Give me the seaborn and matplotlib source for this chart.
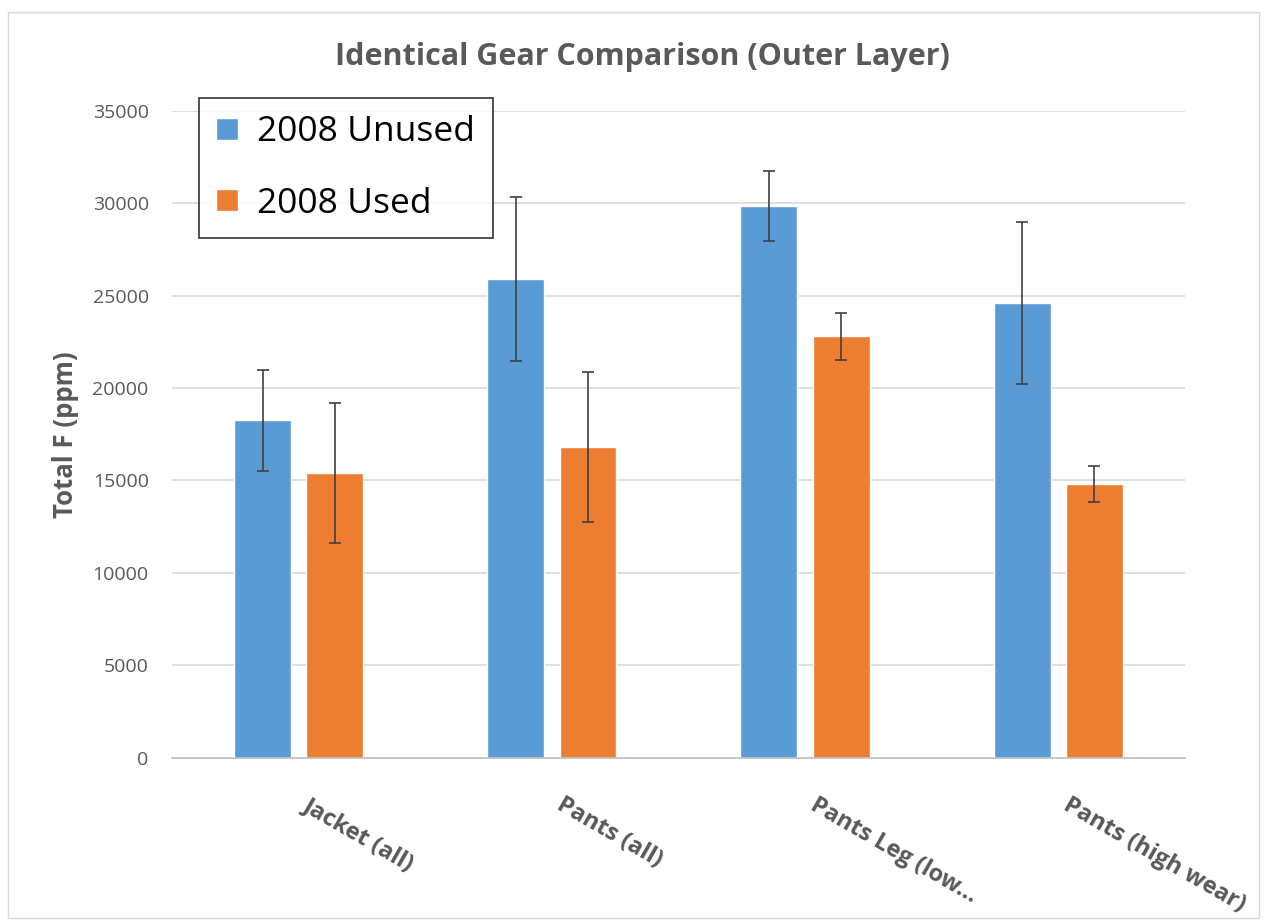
import pandas as pd
import seaborn as sns
import matplotlib.pyplot as plt
from matplotlib.patches import Rectangle
from matplotlib.transforms import ScaledTranslation

# Values
categories = ['Jacket (all)', 'Pants (all)', 'Pants Leg (low...', 'Pants (high wear)']
series = ['2008 Unused', '2008 Used']
unused = [18250, 25900, 29850, 24600]
used = [15400, 16800, 22800, 14800]
unused_err = [2750, 4450, 1900, 4400]
used_err = [3800, 4050, 1270, 975]

df = pd.DataFrame({
    'category': categories * 2,
    'series': [series[0]] * 4 + [series[1]] * 4,
    'value': unused + used,
    'err': unused_err + used_err,
})

sns.set_theme(style='white')
plt.rcParams['font.family'] = ['Open Sans', 'DejaVu Sans']

fig = plt.figure(figsize=(12.67, 9.22), dpi=100)
ax = fig.add_axes([0.136, 0.178, 0.799, 0.702])

palette = {'2008 Unused': '#5B9BD5', '2008 Used': '#ED7D31'}
sns.barplot(data=df, x='category', y='value', hue='series', palette=palette,
            width=0.57, gap=0.21, saturation=1, errorbar=None, ax=ax)

# error bars on top of each bar
for cont, s in zip(ax.containers, series):
    errs = df.loc[df['series'] == s, 'err'].tolist()
    xs = [p.get_x() + p.get_width() / 2 for p in cont.patches]
    hs = [p.get_height() for p in cont.patches]
    ax.errorbar(xs, hs, yerr=errs, fmt='none', ecolor='#404040',
                elinewidth=1.2, capsize=4, capthick=1.2)

ax.set_xlim(-0.5, 3.5)
ax.set_ylim(0, 35000)
ax.set_yticks(range(0, 35001, 5000))
ax.grid(axis='y', color='#D9D9D9', linewidth=1.2)
ax.set_axisbelow(True)
for side in ['left', 'right', 'top']:
    ax.spines[side].set_visible(False)
ax.spines['bottom'].set_color('#BFBFBF')
ax.spines['bottom'].set_linewidth(1.2)

ax.tick_params(axis='y', labelsize=14, colors='#595959', length=0, pad=17)
ax.tick_params(axis='x', length=0)
ax.set_xticks(range(len(categories)))
ax.set_xticklabels(categories, rotation=-30, ha='left', va='top',
                   rotation_mode='anchor', fontsize=17, fontweight='bold',
                   color='#595959')
shift = ScaledTranslation(9 / 72, -3 / 72, fig.dpi_scale_trans)
for lab in ax.get_xticklabels():
    lab.set_y(-0.04)
    lab.set_transform(lab.get_transform() + shift)

ax.set_xlabel('')
ax.set_ylabel('Total F (ppm)', fontsize=18.5, fontweight='bold', color='#595959',
              labelpad=10)
fig.text(0.507, 0.938, 'Identical Gear Comparison (Outer Layer)', ha='center',
         va='center', fontsize=22, fontweight='bold', color='#595959')

leg = ax.legend(loc='upper left', bbox_to_anchor=(0.026, 1.02), fontsize=25.5,
                frameon=True, fancybox=False, edgecolor='black',
                handlelength=0.6, handleheight=0.6, labelspacing=1.05,
                borderpad=0.5, handletextpad=0.55, borderaxespad=0)
leg.get_frame().set_linewidth(1.2)
for t in leg.get_texts():
    t.set_color('black')

# light outer frame of the chart area
fig.patches.append(Rectangle((0.006, 0.004), 0.988, 0.983, transform=fig.transFigure,
                             fill=False, edgecolor='#D9D9D9', linewidth=1))

fig.savefig('out.png', dpi=100)
